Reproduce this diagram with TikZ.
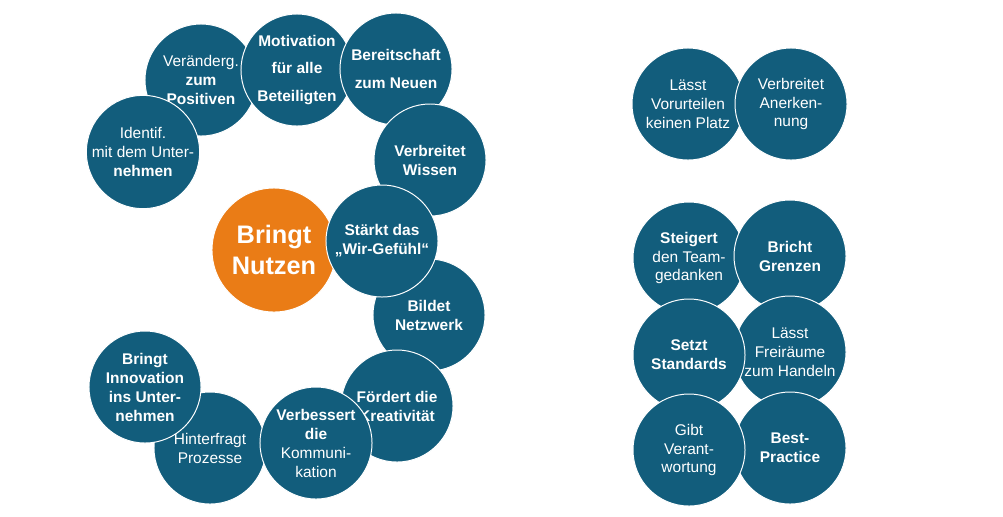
\documentclass[tikz,border=0pt]{standalone}
\usepackage{fontspec}
\setmainfont{Liberation Sans}
\usepackage{xcolor}
\definecolor{circleblue}{RGB}{18, 93, 124}
\definecolor{accentorange}{RGB}{234, 124, 22}
\usepackage{tikz}
\usetikzlibrary{positioning}

\begin{document}
\begin{tikzpicture}[x=0.025cm, y=-0.025cm,
      blob/.style={circle, draw=white, line width=0.7pt, fill=circleblue, text=white, inner sep=0pt, minimum size=2.8cm, align=center, font=\fontsize{11}{13.5}\selectfont\bfseries},
      blobr/.style={blob, font=\fontsize{11}{13.5}\selectfont},
      core/.style={circle, draw=white, line width=0.7pt, fill=accentorange, text=white, inner sep=0pt, minimum size=3.1cm, align=center, font=\fontsize{18}{22.5}\selectfont\bfseries}
  ]
    \useasboundingbox[fill=white] (0,0) rectangle (1003,516);

    % Upper arc of the 3
    \node[blobr] (c1) at (201, 80) {Veränderg.\\\textbf{zum}\\\textbf{Positiven}};
    \node[blob] (c2) at (297, 70) {Motivation\\[6pt]für alle\\[6pt]Beteiligten};
    \node[blob] (c3) at (396, 69) {Bereitschaft\\[6pt]zum Neuen};
    \node[blob] (c4) at (430, 160) {Verbreitet\\Wissen};
    \node[blobr] (c0) at (143, 152) {Identif.\\mit dem Unter-\\\textbf{nehmen}};

    % Middle
    \node[core] (hub) at (274, 250) {Bringt\\Nutzen};
    \node[blob] (c6) at (429, 315) {Bildet\\Netzwerk};
    \node[blob] (c5) at (382, 241) {Stärkt das\\„Wir-Gefühl“};

    % Lower arc of the 3
    \node[blob] (c7) at (397, 406) {Fördert die\\Kreativität};
    \node[blobr] (c9) at (210, 448) {Hinterfragt\\Prozesse};
    \node[blobr] (c8) at (316, 443) {\textbf{Verbessert}\\\textbf{die}\\Kommuni-\\kation};
    \node[blob] (c10) at (145, 387) {Bringt\\Innovation\\ins Unter-\\nehmen};

    % Right group, top pair
    \node[blobr] (r1) at (688, 104) {Lässt\\Vorurteilen\\keinen Platz};
    \node[blobr] (r2) at (791, 104) {Verbreitet\\Anerken-\\nung};

    % Right group, grid
    \node[blob] (g1) at (689, 258) {Steigert\\\mdseries den Team-\\\mdseries gedanken};
    \node[blob] (g2) at (790, 256) {Bricht\\Grenzen};
    \node[blobr] (g4) at (790, 352) {Lässt\\Freiräume\\zum Handeln};
    \node[blob] (g3) at (689, 355) {Setzt\\Standards};
    \node[blob] (g6) at (790, 448) {Best-\\Practice};
    \node[blobr] (g5) at (689, 450) {Gibt\\Verant-\\wortung};
  \end{tikzpicture}
\end{document}
